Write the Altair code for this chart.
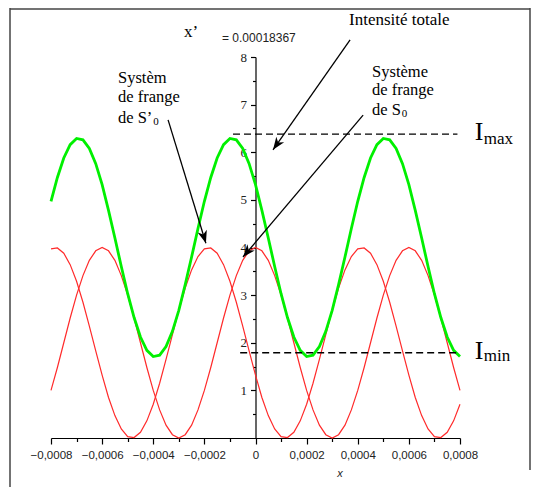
import altair as alt
import pandas as pd

# ---- data ----
x_vals = [-0.0008, -0.000775, -0.00075, -0.000725, -0.0007, -0.000675, -0.00065, -0.000625,
          -0.0006, -0.000575, -0.00055, -0.000525, -0.0005, -0.000475, -0.00045, -0.000425,
          -0.0004, -0.000375, -0.00035, -0.000325, -0.0003, -0.000275, -0.00025, -0.000225,
          -0.0002, -0.000175, -0.00015, -0.000125, -0.0001, -0.000075, -0.00005, -0.000025,
          0.0, 0.000025, 0.00005, 0.000075, 0.0001, 0.000125, 0.00015, 0.000175,
          0.0002, 0.000225, 0.00025, 0.000275, 0.0003, 0.000325, 0.00035, 0.000375,
          0.0004, 0.000425, 0.00045, 0.000475, 0.0005, 0.000525, 0.00055, 0.000575,
          0.0006, 0.000625, 0.00065, 0.000675, 0.0007, 0.000725, 0.00075, 0.000775, 0.0008]

fringe_s0 = [1.0, 1.48, 2.0, 2.52, 3.0, 3.41, 3.73, 3.93, 4.0, 3.93, 3.73, 3.41, 3.0, 2.52, 2.0, 1.48,
             1.0, 0.59, 0.27, 0.07, 0.0, 0.07, 0.27, 0.59,
             1.0, 1.48, 2.0, 2.52, 3.0, 3.41, 3.73, 3.93, 4.0, 3.93, 3.73, 3.41, 3.0, 2.52, 2.0, 1.48,
             1.0, 0.59, 0.27, 0.07, 0.0, 0.07, 0.27, 0.59,
             1.0, 1.48, 2.0, 2.52, 3.0, 3.41, 3.73, 3.93, 4.0, 3.93, 3.73, 3.41, 3.0, 2.52, 2.0, 1.48,
             1.0]

fringe_s0p = [3.97, 3.99, 3.88, 3.64, 3.29, 2.85, 2.35, 1.83, 1.32, 0.85, 0.47, 0.19, 0.03, 0.01, 0.12, 0.36,
              0.71, 1.15, 1.65, 2.17, 2.68, 3.15, 3.53, 3.81,
              3.97, 3.99, 3.88, 3.64, 3.29, 2.85, 2.35, 1.83, 1.32, 0.85, 0.47, 0.19, 0.03, 0.01, 0.12, 0.36,
              0.71, 1.15, 1.65, 2.17, 2.68, 3.15, 3.53, 3.81,
              3.97, 3.99, 3.88, 3.64, 3.29, 2.85, 2.35, 1.83, 1.32, 0.85, 0.47, 0.19, 0.03, 0.01, 0.12, 0.36,
              0.71]

total = [4.97, 5.47, 5.88, 6.16, 6.29, 6.26, 6.08, 5.76, 5.32, 4.78, 4.20, 3.60, 3.03, 2.53, 2.12, 1.84,
         1.71, 1.74, 1.92, 2.24, 2.68, 3.22, 3.80, 4.40,
         4.97, 5.47, 5.88, 6.16, 6.29, 6.26, 6.08, 5.76, 5.32, 4.78, 4.20, 3.60, 3.03, 2.53, 2.12, 1.84,
         1.71, 1.74, 1.92, 2.24, 2.68, 3.22, 3.80, 4.40,
         4.97, 5.47, 5.88, 6.16, 6.29, 6.26, 6.08, 5.76, 5.32, 4.78, 4.20, 3.60, 3.03, 2.53, 2.12, 1.84,
         1.71]

x_ticks = [-0.0008, -0.0007, -0.0006, -0.0005, -0.0004, -0.0003, -0.0002, -0.0001, 0.0,
           0.0001, 0.0002, 0.0003, 0.0004, 0.0005, 0.0006, 0.0007, 0.0008]
y_ticks = [0.5, 1, 1.5, 2, 2.5, 3, 3.5, 4, 4.5, 5, 5.5, 6, 6.5, 7, 7.5, 8]

# dashed levels
level_y = [6.38, 1.79]
level_x_from = [-0.000088, -0.00006]
level_x_to = [0.00079, 0.00079]

# arrows (start -> tip) and head direction (deg, clockwise from up)
arrow_x0 = [0.000370, 0.000421, -0.000342]
arrow_y0 = [8.36, 6.78, 6.68]
arrow_x1 = [0.0000685, -0.000049, -0.000194]
arrow_y1 = [6.05, 3.80, 4.09]
arrow_angle = [215, 220, 163]

# serif annotations
serif_text = ["Intensité totale", "Système", "de frange", "de S", "Systèm", "de frange", "de S’",
              "x’", "I", "max", "I", "min"]
serif_x = [0.000366, 0.000456, 0.000456, 0.000456, -0.000538, -0.000538, -0.000538,
           -0.00028, 0.000858, 0.000893, 0.000858, 0.000893]
serif_y = [8.78, 7.69, 7.31, 6.89, 7.55, 7.17, 6.71,
           8.53, 6.42, 6.28, 1.83, 1.72]
serif_size = [17, 16.5, 16.5, 16.5, 16.5, 16.5, 16.5, 17, 26, 17, 26, 17]

sub_text = ["0", "0"]
sub_x = [0.000572, -0.000400]
sub_y = [6.80, 6.63]

sans_text = ["= 0.00018367"]
sans_x = [-0.000131]
sans_y = [8.40]

xtitle_text = ["x"]
xtitle_x = [0.000331]
xtitle_y = [-0.76]

# ---- tables ----
curves = pd.DataFrame({"x": x_vals, "s0": fringe_s0, "s0p": fringe_s0p, "tot": total})
levels = pd.DataFrame({"y": level_y, "x": level_x_from, "x2": level_x_to})
arrows = pd.DataFrame({"x": arrow_x0, "y": arrow_y0, "x2": arrow_x1, "y2": arrow_y1, "angle": arrow_angle})
serif = pd.DataFrame({"t": serif_text, "x": serif_x, "y": serif_y, "s": serif_size})
subs = pd.DataFrame({"t": sub_text, "x": sub_x, "y": sub_y})
sans = pd.DataFrame({"t": sans_text, "x": sans_x, "y": sans_y})
xtitle = pd.DataFrame({"t": xtitle_text, "x": xtitle_x, "y": xtitle_y})
one = pd.DataFrame({"k": [0]})

W, H = 409, 381

x_axis = alt.Axis(
    values=x_ticks, grid=False, title=None,
    labelExpr="round(datum.value*10000) % 2 != 0 ? '' : (abs(datum.value) < 1e-9 ? '0' : replace(format(datum.value, '.4f'), '.', ','))",
    tickSize={"condition": {"test": "round(datum.value*10000) % 2 != 0", "value": 3.5}, "value": 6},
    domainColor="black", tickColor="black", domainWidth=1.2, tickWidth=1.2,
    labelFont="Liberation Sans", labelFontSize=11.5, labelColor="#222",
    labelPadding=5, labelFlush=False, labelOverlap=False,
)
y_axis = alt.Axis(
    values=y_ticks, grid=False, title=None, orient="left", offset=-W / 2,
    labelExpr="datum.value % 1 != 0 ? '' : format(datum.value, 'd')",
    tickSize={"condition": {"test": "datum.value % 1 != 0", "value": 3}, "value": 5},
    domainColor="black", tickColor="black", domainWidth=1.2, tickWidth=1.2,
    labelFont="Liberation Serif", labelFontSize=13, labelColor="#222",
    labelPadding=4, labelFlush=False, labelOverlap=False,
)
xs = alt.Scale(domain=[-0.0008, 0.0008], nice=False, zero=False)
ys = alt.Scale(domain=[0, 8], nice=False, zero=False)


def X(f):
    return alt.X(f"{f}:Q", scale=xs, axis=x_axis)


def Y(f):
    return alt.Y(f"{f}:Q", scale=ys, axis=y_axis)


frame_color = "#444"
frame_left = alt.Chart(one).mark_rule(color=frame_color, strokeWidth=1.5).encode(
    x=alt.value(-41), y=alt.value(-49), y2=alt.value(430))
frame_top = alt.Chart(one).mark_rule(color=frame_color, strokeWidth=1.5).encode(
    x=alt.value(-41), x2=alt.value(479), y=alt.value(-48))
frame_right = alt.Chart(one).mark_rule(color=frame_color, strokeWidth=1.5).encode(
    x=alt.value(479), y=alt.value(-49), y2=alt.value(413))

base = alt.Chart(curves)
red1 = base.mark_line(color="#ff2a2a", strokeWidth=1.2).encode(x=X("x"), y=Y("s0"))
red2 = base.mark_line(color="#ff2a2a", strokeWidth=1.2).encode(x=X("x"), y=Y("s0p"))
green = base.mark_line(color="#00f000", strokeWidth=2.8).encode(x=X("x"), y=Y("tot"))

dashed = alt.Chart(levels).mark_rule(color="black", strokeWidth=1.4, strokeDash=[7, 4]).encode(
    x=X("x"), x2="x2:Q", y=Y("y"))

arrow_lines = alt.Chart(arrows).mark_rule(color="black", strokeWidth=1.3).encode(
    x=X("x"), y=Y("y"), x2="x2:Q", y2="y2:Q")
arrow_heads = alt.Chart(arrows).mark_point(
    shape="M0,0L-0.8,2.1L0,1.5L0.8,2.1Z", filled=True, color="black", opacity=1, size=144
).encode(x=X("x2"), y=Y("y2"), angle=alt.Angle("angle:Q", scale=None))

serif_layer = alt.Chart(serif).mark_text(
    font="Liberation Serif", align="left", baseline="middle", color="black"
).encode(x=X("x"), y=Y("y"), text="t:N", size=alt.Size("s:Q", scale=None, legend=None))
sub_layer = alt.Chart(subs).mark_text(
    font="Liberation Serif", align="left", baseline="middle", color="black", fontSize=11
).encode(x=X("x"), y=Y("y"), text="t:N")
sans_layer = alt.Chart(sans).mark_text(
    font="Liberation Sans", align="left", baseline="middle", color="#222", fontSize=12
).encode(x=X("x"), y=Y("y"), text="t:N")
xtitle_layer = alt.Chart(xtitle).mark_text(
    font="Liberation Sans", fontStyle="italic", align="center", baseline="middle", color="#222", fontSize=11
).encode(x=X("x"), y=Y("y"), text="t:N")

chart = alt.layer(
    frame_left, frame_top, frame_right,
    red1, red2, green, dashed, arrow_lines, arrow_heads,
    serif_layer, sub_layer, sans_layer, xtitle_layer,
).properties(
    width=W, height=H,
    autosize="none",
    padding={"left": 43, "top": 49, "right": 78, "bottom": 49},
    background="white",
).configure_view(strokeWidth=0)

chart.save("out.html", embed_options={"renderer": "svg", "actions": False})
